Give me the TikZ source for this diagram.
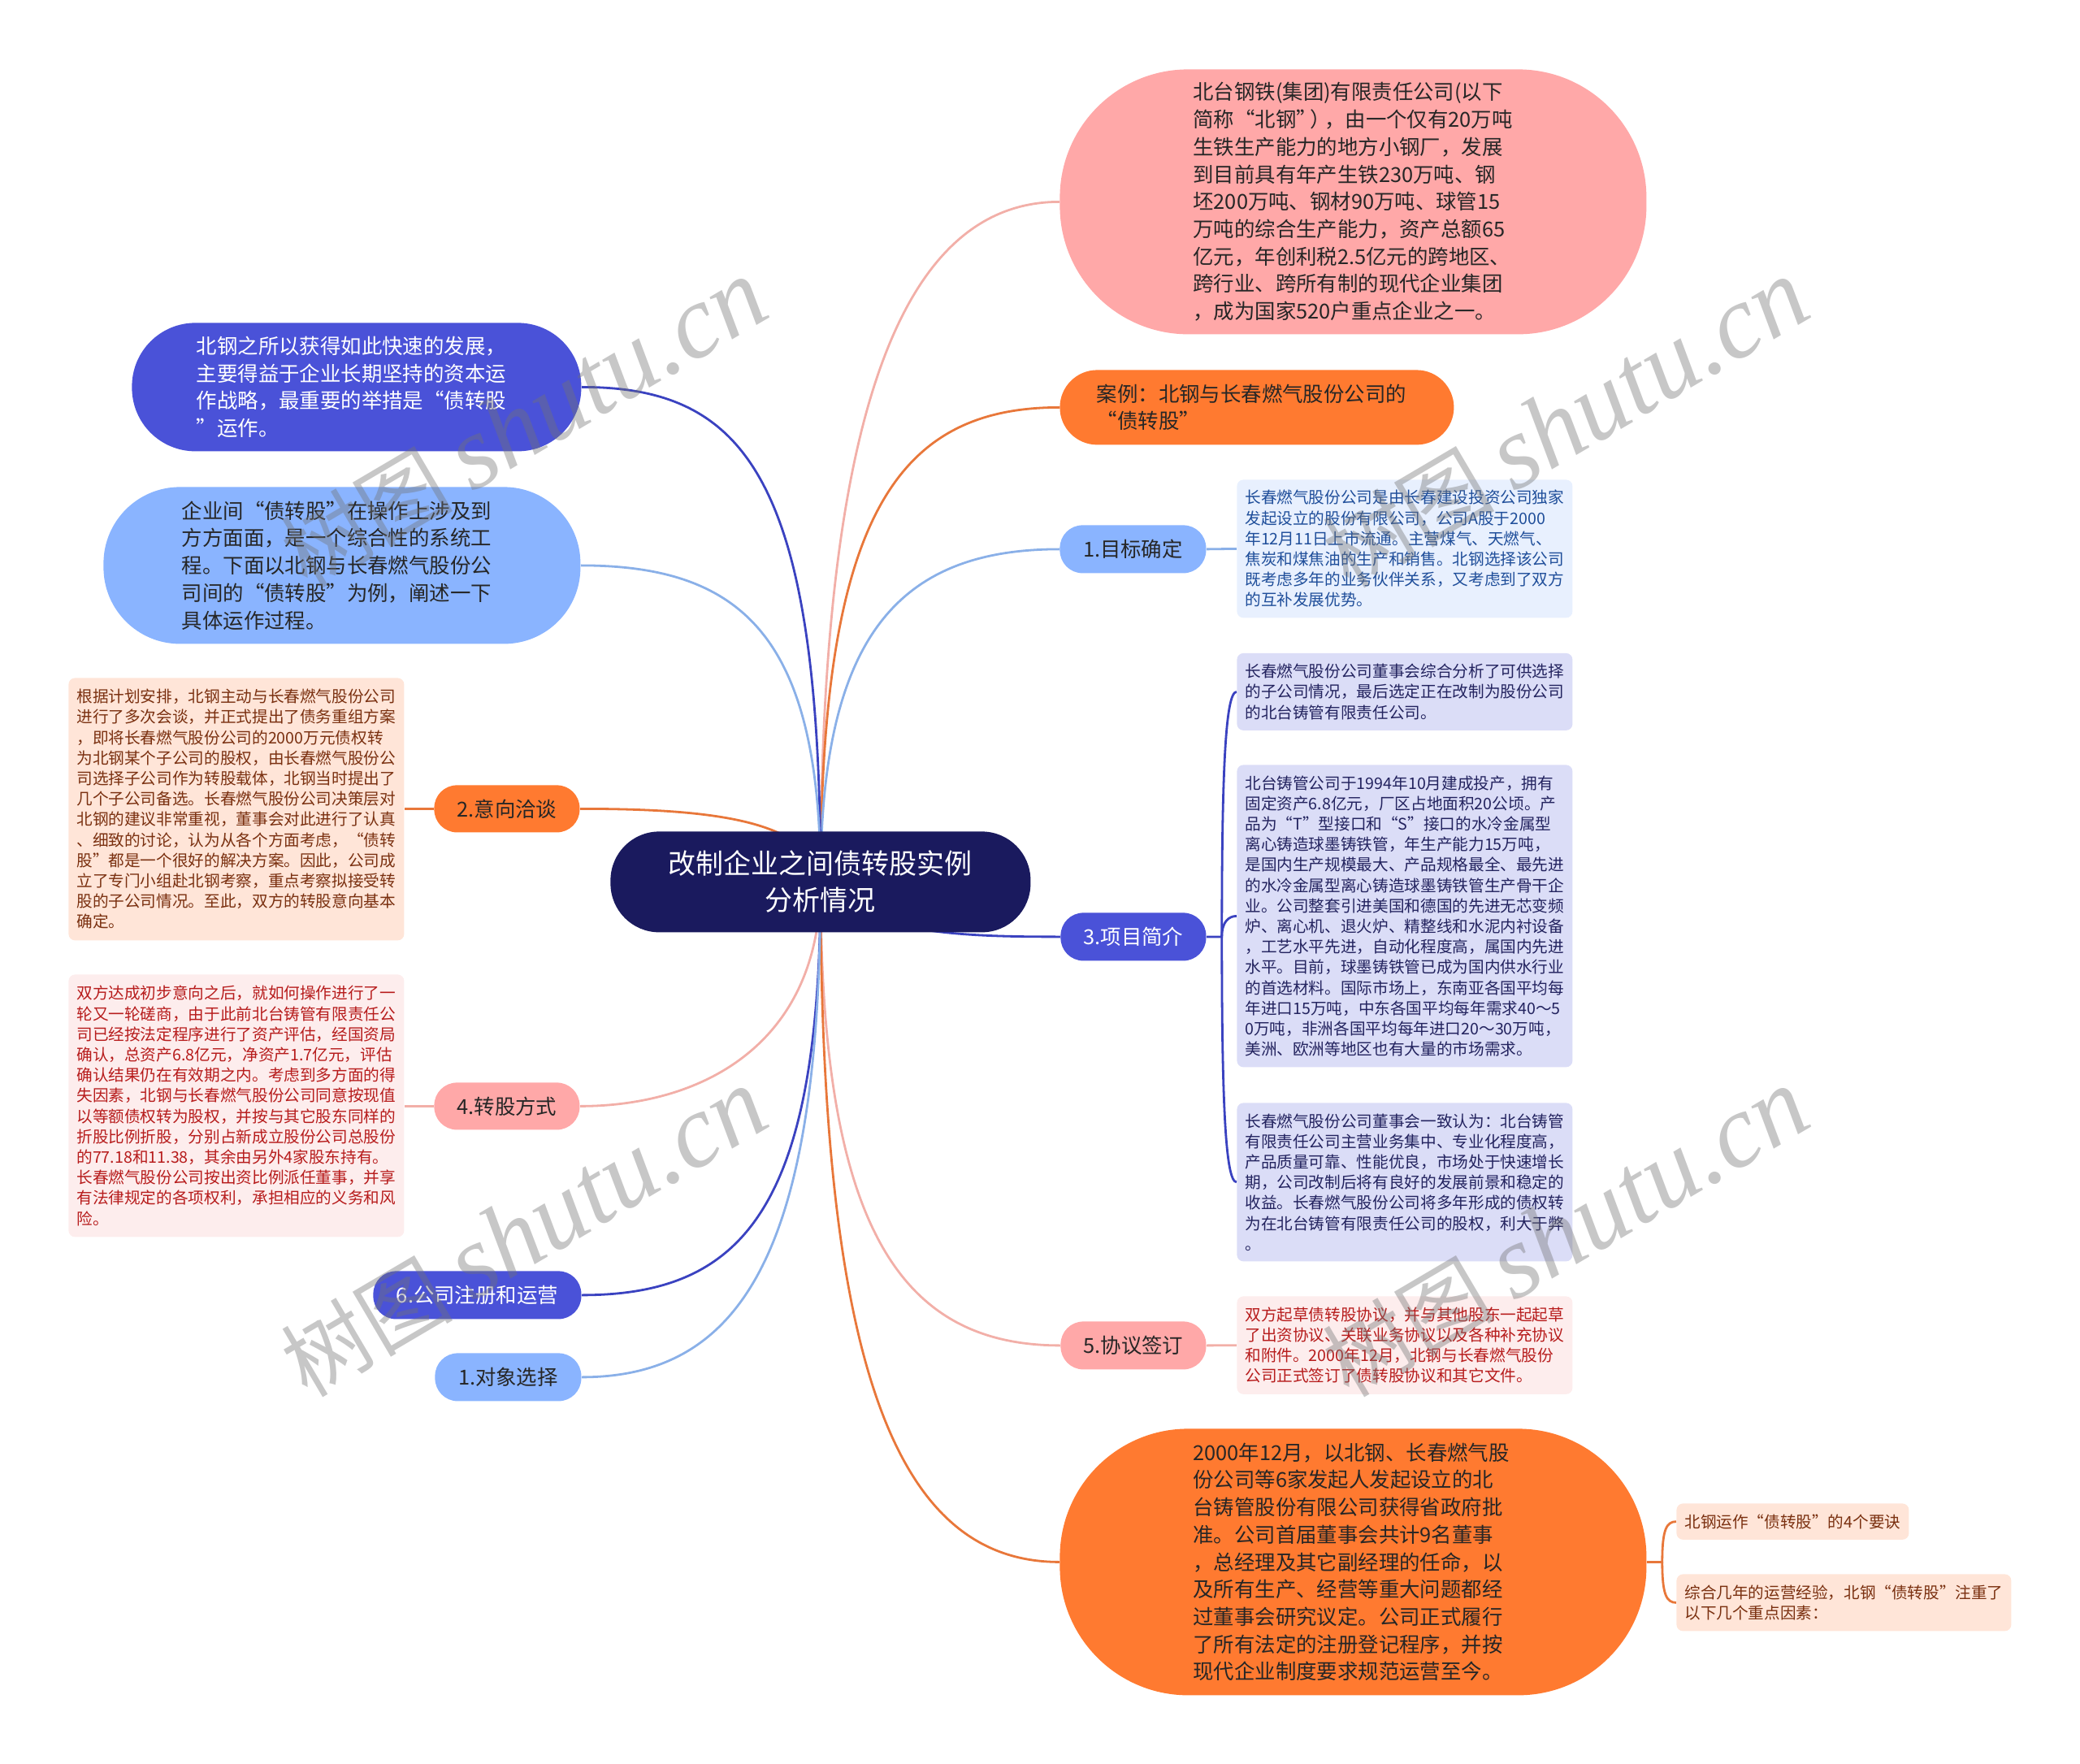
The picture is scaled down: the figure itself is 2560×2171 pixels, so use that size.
\documentclass[tikz,border=0pt]{standalone}
\usepackage{fontspec}
\setmainfont{Noto Sans CJK SC}
\newfontfamily\wmfont{Liberation Serif}
\usetikzlibrary{positioning,calc}
\pgfdeclarelayer{bg}
\pgfdeclarelayer{wm}
\pgfsetlayers{bg,main,wm}
\definecolor{cnavy}{HTML}{1A1A5E}
\definecolor{cpink}{HTML}{FFA8A8}
\definecolor{corange}{HTML}{FF7A30}
\definecolor{clblue}{HTML}{8AB4FF}
\definecolor{cdblue}{HTML}{4A52D8}
\definecolor{lpink}{HTML}{F2AFA8}
\definecolor{lorange}{HTML}{E8773A}
\definecolor{llblue}{HTML}{8AB0E8}
\definecolor{ldblue}{HTML}{3A42C0}
\definecolor{bblue}{HTML}{E8F0FE}
\definecolor{tblue}{HTML}{1F4E9A}
\definecolor{blav}{HTML}{DBDDF7}
\definecolor{tlav}{HTML}{23235F}
\definecolor{bpeach}{HTML}{FFE5D8}
\definecolor{tpeach}{HTML}{7A3010}
\definecolor{brose}{HTML}{FDEDED}
\definecolor{trose}{HTML}{B71C1C}
\tikzset{
  x=0.5pt,y=-0.5pt,
  big/.style={font=\fontsize{12.7}{16.85}\selectfont,text=black!85,align=left,inner sep=0pt,anchor=north west,text width=197pt},
  pill/.style={font=\fontsize{12.7}{16.85}\selectfont,text=black!85,align=center,inner sep=0pt,anchor=north west,rounded corners=14pt},
  txtbox/.style={font=\fontsize{9.82}{12.6}\selectfont,align=left,text width=196.5pt,inner xsep=5pt,inner ysep=0pt,anchor=north west,rounded corners=4pt},
  smallbox/.style={font=\fontsize{9.8}{12.6}\selectfont,align=left,inner xsep=4.2pt,inner ysep=0pt,anchor=north west,rounded corners=4pt,fill=bpeach,text=tpeach},
  bluebox/.style={txtbox,fill=bblue,text=tblue},
  lavbox/.style={txtbox,fill=blav,text=tlav},
  peachbox/.style={txtbox,fill=bpeach,text=tpeach},
  rosebox/.style={txtbox,fill=brose,text=trose},
  link/.style={line width=1.4pt},
  watermark/.style={rotate=30.5,text=black!55,opacity=0.4,anchor=center,inner sep=0pt},
}
\newcommand{\wmtext}{{\fontsize{53}{53}\selectfont 树图\ }{\wmfont\itshape\fontsize{64}{64}\selectfont shutu.cn}}
\begin{document}
\begin{tikzpicture}
\useasboundingbox (0,0) rectangle (2560,2171);
% nodes
\node[fill=cnavy,text=white,font=\fontsize{17}{22.5}\selectfont,align=center,inner sep=0pt,minimum width=258.5pt,minimum height=62pt,rounded corners=30pt,anchor=north west] (ctr) at (751,1023) {改制企业之间债转股实例\\分析情况};

\node[big,fill=cpink,minimum width=361pt,minimum height=163pt,rounded corners=79pt] (pk) at (1304,85) {北台钢铁(集团)有限责任公司(以下\\简称“北钢”\kern-4pt）\kern-4pt，由一个仅有20万吨\\生铁生产能力的地方小钢厂，发展\\到目前具有年产生铁230万吨、钢\\坯200万吨、钢材90万吨、球管15\\万吨的综合生产能力，资产总额65\\亿元，年创利税2.5亿元的跨地区、\\跨行业、跨所有制的现代企业集团\\，成为国家520户重点企业之一。};

\node[big,fill=corange,minimum width=242.5pt,minimum height=46pt,rounded corners=23pt] (case) at (1304,455) {案例：北钢与长春燃气股份公司的\\“债转股”};

\node[pill,fill=clblue,minimum width=90pt,minimum height=29.5pt] (p1) at (1304,646) {1.目标确定};
\node[pill,fill=cdblue,text=white,minimum width=89.5pt,minimum height=29.5pt] (p3) at (1305,1123) {3.项目简介};
\node[pill,fill=cpink,minimum width=89.5pt,minimum height=29.5pt] (p5) at (1305,1626) {5.协议签订};

\node[bluebox,minimum height=85pt] (b1) at (1522,590) {长春燃气股份公司是由长春建设投资公司独家\\发起设立的股份有限公司，公司A股于2000\\年12月11日上市流通。主营煤气、天燃气、\\焦炭和煤焦油的生产和销售。北钢选择该公司\\既考虑多年的业务伙伴关系，又考虑到了双方\\的互补发展优势。};

\node[lavbox,minimum height=47.5pt] (b3a) at (1522,803.5) {长春燃气股份公司董事会综合分析了可供选择\\的子公司情况，最后选定正在改制为股份公司\\的北台铸管有限责任公司。};

\node[lavbox,minimum height=186pt] (b3b) at (1522,941) {北台铸管公司于1994年10月建成投产，拥有\\固定资产6.8亿元，厂区占地面积20公顷。产\\品为“T”型接口和“S”接口的水冷金属型\\离心铸造球墨铸铁管，年生产能力15万吨，\\是国内生产规模最大、产品规格最全、最先进\\的水冷金属型离心铸造球墨铸铁管生产骨干企\\业。公司整套引进美国和德国的先进无芯变频\\炉、离心机、退火炉、精整线和水泥内衬设备\\，工艺水平先进，自动化程度高，属国内先进\\水平。目前，球墨铸铁管已成为国内供水行业\\的首选材料。国际市场上，东南亚各国平均每\\年进口15万吨，中东各国平均每年需求40～5\\0万吨，非洲各国平均每年进口20～30万吨，\\美洲、欧洲等地区也有大量的市场需求。};

\node[lavbox,minimum height=97.5pt] (b3c) at (1522,1357) {长春燃气股份公司董事会一致认为：北台铸管\\有限责任公司主营业务集中、专业化程度高，\\产品质量可靠、性能优良，市场处于快速增长\\期，公司改制后将有良好的发展前景和稳定的\\收益。长春燃气股份公司将多年形成的债权转\\为在北台铸管有限责任公司的股权，利大于弊\\。};

\node[rosebox,minimum height=60.25pt] (b5) at (1522,1595) {双方起草债转股协议，并与其他股东一起起草\\了出资协议、关联业务协议以及各种补充协议\\和附件。2000年12月，北钢与长春燃气股份\\公司正式签订了债转股协议和其它文件。};

\node[big,fill=corange,minimum width=361pt,minimum height=164pt,rounded corners=79pt] (og) at (1304,1758) {2000年12月，以北钢、长春燃气股\\份公司等6家发起人发起设立的北\\台铸管股份有限公司获得省政府批\\准。公司首届董事会共计9名董事\\，总经理及其它副经理的任命，以\\及所有生产、经营等重大问题都经\\过董事会研究议定。公司正式履行\\了所有法定的注册登记程序，并按\\现代企业制度要求规范运营至今。};

\node[smallbox,minimum width=143pt,minimum height=22.25pt] (s1) at (2063,1850) {北钢运作“债转股”的4个要诀};
\node[smallbox,minimum width=206pt,minimum height=35pt] (s2) at (2063,1937) {综合几年的运营经验，北钢“债转股”注重了\\以下几个重点因素：};

\node[big,fill=cdblue,text=white,minimum width=276.5pt,minimum height=79pt,rounded corners=39pt] (l1) at (162,397) {北钢之所以获得如此快速的发展，\\主要得益于企业长期坚持的资本运\\作战略，最重要的举措是“债转股\\”运作。};

\node[big,fill=clblue,minimum width=293.5pt,minimum height=96.5pt,rounded corners=47pt] (l2) at (127,599) {企业间“债转股”在操作上涉及到\\方方面面，是一个综合性的系统工\\程。下面以北钢与长春燃气股份公\\司间的“债转股”为例，阐述一下\\具体运作过程。};

\node[peachbox,minimum height=161.5pt] (b2) at (84,834) {根据计划安排，北钢主动与长春燃气股份公司\\进行了多次会谈，并正式提出了债务重组方案\\，即将长春燃气股份公司的2000万元债权转\\为北钢某个子公司的股权，由长春燃气股份公\\司选择子公司作为转股载体，北钢当时提出了\\几个子公司备选。长春燃气股份公司决策层对\\北钢的建议非常重视，董事会对此进行了认真\\、细致的讨论，认为从各个方面考虑，“债转\\股”都是一个很好的解决方案。因此，公司成\\立了专门小组赴北钢考察，重点考察拟接受转\\股的子公司情况。至此，双方的转股意向基本\\确定。};

\node[rosebox,minimum height=161.5pt] (b4) at (84,1199) {双方达成初步意向之后，就如何操作进行了一\\轮又一轮磋商，由于此前北台铸管有限责任公\\司已经按法定程序进行了资产评估，经国资局\\确认，总资产6.8亿元，净资产1.7亿元，评估\\确认结果仍在有效期之内。考虑到多方面的得\\失因素，北钢与长春燃气股份公司同意按现值\\以等额债权转为股权，并按与其它股东同样的\\折股比例折股，分别占新成立股份公司总股份\\的77.18和11.38，其余由另外4家股东持有。\\长春燃气股份公司按出资比例派任董事，并享\\有法律规定的各项权利，承担相应的义务和风\\险。};

\node[pill,fill=corange,minimum width=89.5pt,minimum height=29pt] (p2) at (534,966) {2.意向洽谈};
\node[pill,fill=cpink,minimum width=89.5pt,minimum height=29pt] (p4) at (534,1332) {4.转股方式};
\node[pill,fill=cdblue,text=white,minimum width=128pt,minimum height=29.5pt] (p6) at (459,1564) {6.公司注册和运营};
\node[pill,fill=clblue,minimum width=90pt,minimum height=29.5pt] (q1) at (535,1665) {1.对象选择};

% connectors
\begin{pgfonlayer}{bg}
\draw[link,lpink] (ctr.center) .. controls +(0,-560) and +(-200,0) .. (pk.west);
\draw[link,lorange] (ctr.center) .. controls +(0,-450) and +(-200,0) .. (case.west);
\draw[link,llblue] (ctr.center) .. controls +(0,-300) and +(-200,0) .. (p1.west);
\draw[link,ldblue] (ctr.center) .. controls +(50,65) and +(-115,0) .. (p3.west);
\draw[link,lpink] (ctr.center) .. controls +(0,420) and +(-200,0) .. (p5.west);
\draw[link,lorange] (ctr.center) .. controls +(0,600) and +(-200,0) .. (og.west);
\draw[link,ldblue] (ctr.center) .. controls +(0,-500) and +(200,0) .. (l1.east);
\draw[link,llblue] (ctr.center) .. controls +(0,-300) and +(200,0) .. (l2.east);
\draw[link,lorange] (ctr.center) .. controls +(-10,-75) and +(167,0) .. (p2.east);
\draw[link,lpink] (ctr.center) .. controls +(0,200) and +(150,0) .. (p4.east);
\draw[link,ldblue] (ctr.center) .. controls +(0,400) and +(200,0) .. (p6.east);
\draw[link,llblue] (ctr.center) .. controls +(0,450) and +(200,0) .. (q1.east);
\draw[link,llblue] (p1.east) -- (b1.west);
\draw[link,lpink] (p5.east) -- (b5.west);
\draw[link,lorange] (p2.west) -- (b2.east |- p2.west);
\draw[link,lpink] (p4.west) -- (b4.east |- p4.west);
\coordinate (t3) at ($(p3.east)+(19,0)$);
\draw[link,ldblue] (p3.east) -- (t3) .. controls +(0,-200) and +(-14,0) .. (b3a.west);
\draw[link,ldblue] (t3) .. controls +(0,-18) and +(-10,0) .. (b3b.west);
\draw[link,ldblue] (t3) .. controls +(0,200) and +(-14,0) .. (b3c.west);
\coordinate (t6) at ($(og.east)+(19,0)$);
\draw[link,lorange] (og.east) -- (t6) .. controls +(0,-40) and +(-12,0) .. (s1.west);
\draw[link,lorange] (t6) .. controls +(0,40) and +(-12,0) .. (s2.west);
\end{pgfonlayer}
% watermark
\begin{pgfonlayer}{wm}
\node[watermark] (w1) at (645,522) {\wmtext};
\node[watermark] (w2) at (1927,522) {\wmtext};
\node[watermark] (w3) at (645,1518) {\wmtext};
\node[watermark] (w4) at (1927,1518) {\wmtext};
\end{pgfonlayer}
\end{tikzpicture}
\end{document}
